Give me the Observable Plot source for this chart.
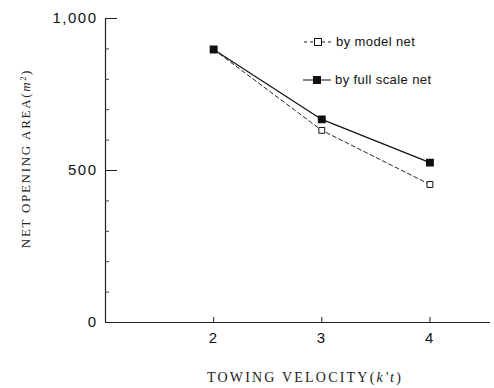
<!DOCTYPE html>
<html>
<head>
<meta charset="utf-8">
<script src="https://cdn.jsdelivr.net/npm/d3@7"></script>
<script src="https://cdn.jsdelivr.net/npm/@observablehq/plot@0.6"></script>
<style>
  html, body { margin: 0; padding: 0; background: #fff; }
  #wrap { position: relative; width: 494px; height: 388px; }
  .legend { position: absolute; font-family: "Liberation Sans", Arial, sans-serif; font-size: 13px; letter-spacing: 0.4px; color: #111; display: flex; align-items: center; }
  .legend svg { margin-right: 4px; }
</style>
</head>
<body>
<div id="wrap"></div>
<script>
const velocities = [2, 3, 4];
const modelNet = [898, 632, 454];
const fullScaleNet = [898, 668, 526];
const seriesNames = ["by model net", "by full scale net"];
const yMajorTicks = [0, 500, 1000];
const yMinorTicks = [100, 200, 300, 400, 600, 700, 800, 900];
const xTicks = [2, 3, 4];
const xLabel = "TOWING VELOCITY(k't)";
const yLabel = "NET OPENING AREA(m²)";

const model = velocities.map((v, i) => ({x: v, y: modelNet[i]}));
const full = velocities.map((v, i) => ({x: v, y: fullScaleNet[i]}));

const W = 494, H = 388;
const mL = 105, mR = 4, mT = 18, mB = 66;
const plotW = W - mL - mR, plotH = H - mT - mB;

const chart = Plot.plot({
  width: W, height: H,
  marginLeft: mL, marginRight: mR, marginTop: mT, marginBottom: mB,
  style: {background: "#fff", color: "#111"},
  x: {domain: [1, 4.56]},
  y: {domain: [0, 1000]},
  marks: [
    Plot.ruleX([1], {stroke: "#222", strokeWidth: 1.2}),
    Plot.ruleY([0], {stroke: "#222", strokeWidth: 1.2}),
    Plot.tickY(yMajorTicks, {y: d => d, insetRight: plotW - 12, stroke: "#222"}),
    Plot.tickY(yMinorTicks, {y: d => d, insetRight: plotW - 4, stroke: "#444"}),
    Plot.tickX(xTicks, {x: d => d, insetTop: plotH - 5, stroke: "#222"}),
    Plot.axisY({ticks: yMajorTicks, tickSize: 0, tickPadding: 8, tickFormat: d3.format(","), fontSize: 15, fontFamily: "Liberation Sans, Arial, sans-serif", label: null}),
    Plot.axisX({ticks: xTicks, tickSize: 0, tickPadding: 10, tickFormat: d3.format("d"), fontSize: 15, fontFamily: "Liberation Sans, Arial, sans-serif", label: null}),
    Plot.line(model, {x: "x", y: "y", stroke: "#222", strokeWidth: 1, strokeDasharray: "4,3"}),
    Plot.line(full, {x: "x", y: "y", stroke: "#111", strokeWidth: 1.2}),
    Plot.dot(model, {x: "x", y: "y", symbol: "square", r: 3.3, fill: "#fff", stroke: "#111", strokeWidth: 1}),
    Plot.dot(full, {x: "x", y: "y", symbol: "square", r: 3.6, fill: "#111", stroke: "#111"}),
    Plot.text([yLabel], {text: d => d, frameAnchor: "left", textAnchor: "middle", rotate: -90, dx: -80, dy: -12, fontSize: 13, fontFamily: "Liberation Serif, Times New Roman, serif", fill: "#222", className: "ylab"}),
    Plot.text([xLabel], {text: d => d, frameAnchor: "bottom", textAnchor: "middle", dy: 59, dx: 7, fontSize: 14, fontFamily: "Liberation Serif, Times New Roman, serif", fill: "#222", className: "xlab"})
  ]
});
d3.select(chart).selectAll("g[aria-label='y-axis tick label'] text, g[aria-label='x-axis tick label'] text").style("letter-spacing", "1.5px");
d3.select(chart).selectAll(".ylab text").style("letter-spacing", "1.7px");
d3.select(chart).selectAll(".xlab text").style("letter-spacing", "2.2px");
d3.select(chart).selectAll(".ylab text").each(function() {
  const t = d3.select(this); t.text(null);
  t.append("tspan").text("NET OPENING AREA(");
  t.append("tspan").style("font-style", "italic").text("m");
  t.append("tspan").attr("baseline-shift", "super").style("font-size", "8px").text("2");
  t.append("tspan").text(")");
});
d3.select(chart).selectAll(".xlab text").each(function() {
  const t = d3.select(this); t.text(null);
  t.append("tspan").text("TOWING VELOCITY(");
  t.append("tspan").style("font-style", "italic").text("k't");
  t.append("tspan").text(")");
});
const wrap = document.getElementById("wrap");
wrap.appendChild(chart);

function legendItem(name, dashed, filled, left, top) {
  const div = document.createElement("div");
  div.className = "legend";
  div.style.left = left + "px";
  div.style.top = top + "px";
  div.innerHTML = `<svg width="28" height="10"><line x1="0" x2="28" y1="5" y2="5" stroke="#222" stroke-width="1.1" ${dashed ? 'stroke-dasharray="3,3"' : ''}/><rect x="10.5" y="1.5" width="7" height="7" fill="${filled ? '#111' : '#fff'}" stroke="#111"/></svg><span>${name}</span>`;
  wrap.appendChild(div);
}
legendItem(seriesNames[0], true, false, 304, 34);
legendItem(seriesNames[1], false, true, 303, 72);
</script>
</body>
</html>
